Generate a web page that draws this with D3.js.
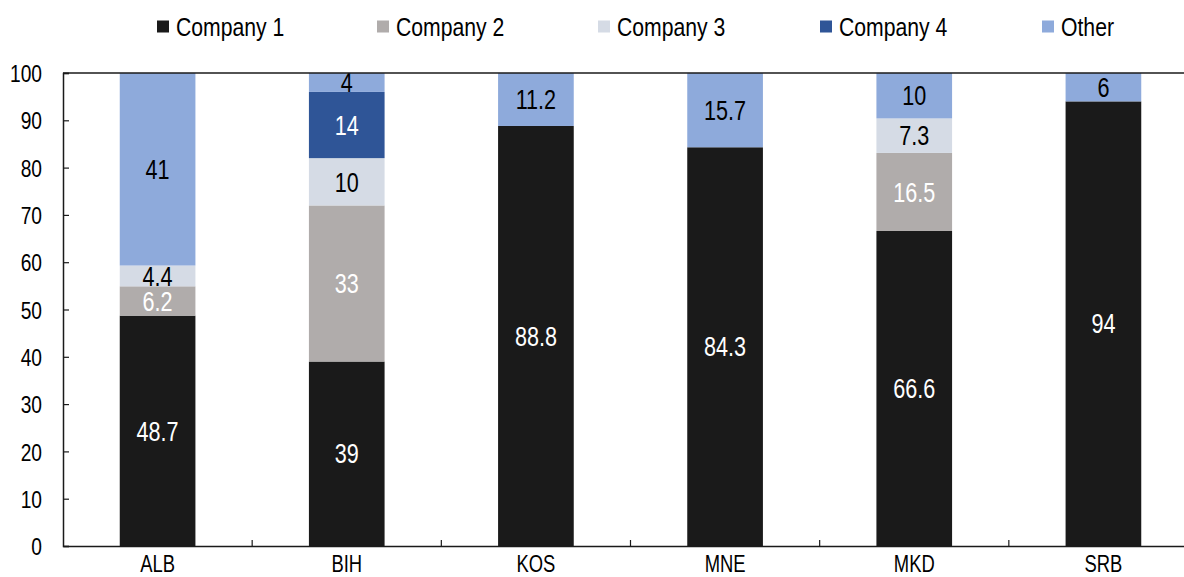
<!DOCTYPE html>
<html><head><meta charset="utf-8">
<script src="https://cdn.jsdelivr.net/npm/d3@7"></script>
<style>
body{margin:0;background:#fff;}
text{font-family:"Liberation Sans",Arial,sans-serif;}
</style></head>
<body><svg id="c" width="1184" height="577"></svg>
<script>
const categories = ["ALB","BIH","KOS","MNE","MKD","SRB"];
const seriesNames = ["Company 1","Company 2","Company 3","Company 4","Other"];
const company1 = [48.7, 39, 88.8, 84.3, 66.6, 94];
const company2 = [6.2, 33, 0, 0, 16.5, 0];
const company3 = [4.4, 10, 0, 0, 7.3, 0];
const company4 = [0, 14, 0, 0, 0, 0];
const other    = [41, 4, 11.2, 15.7, 10, 6];
const yTicks = [0,10,20,30,40,50,60,70,80,90,100];

(function(){
const colors = ["#1a1a1a","#b0acab","#d5dbe5","#2f5597","#8eaadb"];
const labelColors = ["#ffffff","#ffffff","#000000","#ffffff","#000000"];
const SX = 0.8; // narrow-font emulation

const seriesVals = [company1, company2, company3, company4, other];
const rows = categories.map((c,i)=>{
  const r = {cat:c};
  seriesNames.forEach((s,j)=> r[s] = seriesVals[j][i]);
  return r;
});

const svg = d3.select("#c");
const L = 63, R = 1198, T = 73, B = 546;
const x = d3.scaleBand().domain(categories).range([L,R]).paddingInner(0.6).paddingOuter(0.3);
const y = d3.scaleLinear().domain([0,100]).range([B,T]);

svg.append("defs").append("clipPath").attr("id","clip")
  .append("rect").attr("x",L).attr("y",T).attr("width",R-L).attr("height",B-T);

const stack = d3.stack().keys(seriesNames)(rows);

const g = svg.append("g").attr("clip-path","url(#clip)");
stack.forEach((layer,j)=>{
  g.selectAll(null).data(layer.filter(d=>d[1]-d[0]>0)).enter().append("rect")
    .attr("x",d=>x(d.data.cat))
    .attr("width",x.bandwidth())
    .attr("y",d=>y(Math.min(d[1],100)))
    .attr("height",d=>y(d[0])-y(Math.min(d[1],100)))
    .attr("fill",colors[j]);
});

function narrowText(parent, px, py, str, size, fill, anchor){
  const gg = parent.append("g").attr("transform",`translate(${px},${py}) scale(${SX},1)`);
  return gg.append("text").attr("x",0).attr("y",0).attr("dy","0.36em")
    .attr("text-anchor",anchor||"middle").attr("font-size",size).attr("fill",fill).text(str);
}

stack.forEach((layer,j)=>{
  layer.filter(d=>d[1]-d[0]>0).forEach(d=>{
    narrowText(svg, x(d.data.cat)+x.bandwidth()/2, (y(d[0])+y(Math.min(d[1],100)))/2,
      d.data[seriesNames[j]], 27, labelColors[j], "middle");
  });
});

svg.append("line").attr("x1",L).attr("x2",R).attr("y1",T).attr("y2",T)
  .attr("stroke","#1a1a1a").attr("stroke-width",1.5);

const ya = svg.append("g").attr("transform",`translate(${L},0)`)
  .call(d3.axisLeft(y).tickValues(yTicks).tickSize(-6).tickFormat(d3.format("d")));
ya.select(".domain").attr("stroke","#1a1a1a").attr("stroke-width",1.5);
ya.selectAll(".tick line").attr("stroke","#1a1a1a").attr("stroke-width",1.2);
ya.selectAll(".tick text").attr("font-size",24).attr("fill","#000")
  .attr("x",-21/SX).attr("dy","0.36em").attr("transform",`scale(${SX},1)`)
  .attr("font-family",'"Liberation Sans",Arial,sans-serif');

const xa = svg.append("g").attr("transform",`translate(0,${B})`)
  .call(d3.axisBottom(x).tickSize(0));
xa.select(".domain").attr("stroke","#1a1a1a").attr("stroke-width",1.5);
xa.selectAll(".tick text").attr("font-size",23).attr("fill","#000")
  .attr("y",26).attr("dy",0).attr("transform",`scale(${SX},1)`)
  .attr("font-family",'"Liberation Sans",Arial,sans-serif');
const step = x.step();
const boundaries = categories.slice(1).map(c=>x(c) - (step - x.bandwidth())/2);
svg.selectAll(null).data(boundaries).enter().append("line")
  .attr("x1",d=>d).attr("x2",d=>d).attr("y1",B).attr("y2",B-6)
  .attr("stroke","#1a1a1a").attr("stroke-width",1.2);

const legX = [157,377,598,820,1042];
const lg = svg.append("g");
seriesNames.forEach((s,j)=>{
  lg.append("rect").attr("x",legX[j]).attr("y",20.5).attr("width",12).attr("height",12).attr("fill",colors[j]);
  narrowText(lg, legX[j]+19, 26, s, 26.5, "#000", "start");
});
})();
</script></body></html>
